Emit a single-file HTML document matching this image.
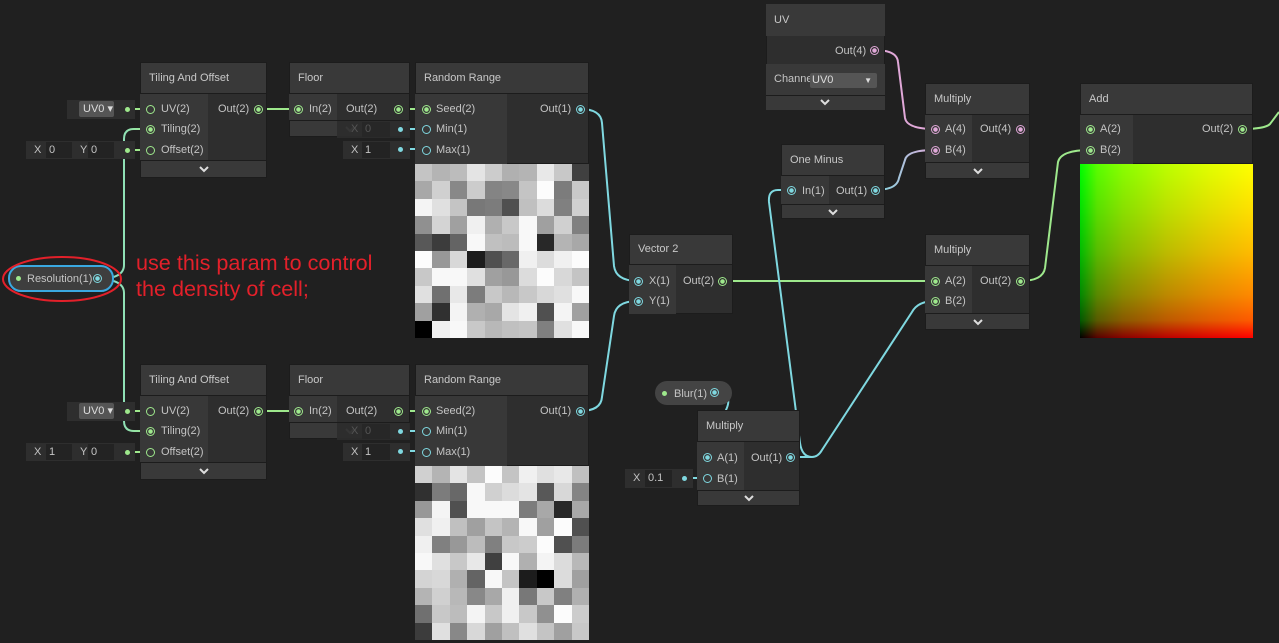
<!DOCTYPE html>
<html><head><meta charset="utf-8"><style>
*{margin:0;padding:0;box-sizing:border-box}
body{width:1279px;height:643px;background:#202020;position:relative;overflow:hidden;font-family:"Liberation Sans",sans-serif;font-size:11px;color:#c4c4c4}
.a{position:absolute}
svg{position:absolute;left:0;top:0}
.grad{background:linear-gradient(to right,#000,#590000 10%,#890000 25%,#bc0000 50%,#e10000 75%,#ff0000),linear-gradient(to bottom,#00ff00,#00e100 25%,#00bc00 50%,#008900 75%,#005900 90%,#000);background-blend-mode:screen}
</style></head><body>
<svg width="1279" height="643" fill="none" stroke-width="2">
<defs>
<linearGradient id="cg" x1="0" y1="0" x2="1" y2="0"><stop offset="0" stop-color="#7fd8e0"/><stop offset="1" stop-color="#9ee88c"/></linearGradient>
<linearGradient id="cp" x1="0" y1="0" x2="1" y2="0"><stop offset="0" stop-color="#7fd8e0"/><stop offset="1" stop-color="#e0a8d8"/></linearGradient>
<linearGradient id="pg" x1="0" y1="0" x2="1" y2="0"><stop offset="0" stop-color="#e0a8d8"/><stop offset="1" stop-color="#9ee88c"/></linearGradient>
</defs>
<g stroke="#9ee88c">
<path d="M127,109H150M127,150H150M258,109H298M398,109H426"/>
<path d="M127,411H150M127,452H150M258,411H298M398,411H426"/>
<path d="M722,281H935"/>
<path d="M1020,281Q1043,281 1045,268L1058,162Q1061,150 1090,150"/>
<path d="M1242,129Q1265,129 1270,124L1279,112"/>
</g>
<g stroke="url(#cg)">
<path d="M97,279Q124,279 124,265L124,139Q124,129 134,129L150,129"/>
<path d="M97,279Q124,279 124,293L124,421Q124,431 134,431L150,431"/>
</g>
<g stroke="#7fd8e0">
<path d="M400,129H426M400,149H426M400,431H426M400,451H426"/>
<path d="M580,109Q601,109 602,123L614,266Q616,281 638,281"/>
<path d="M580,411Q601,411 602,397L614,316Q616,301 638,301"/>
<path d="M791,190L778,190Q768,190 769,202L800,443Q802,457 812,457L790,457"/>
<path d="M790,457L812,457Q818,457 822,450L912,312Q918,301 935,301"/>
<path d="M714,393Q734,393 726,410L712,440Q705,457 715,457L707,457"/>
<path d="M684,478H707"/>
</g>
<path stroke="url(#cp)" d="M875,190Q897,190 899,178L905,160Q907,150 935,150"/>
<path stroke="#e0a8d8" d="M874,50Q897,50 898,62L905,118Q907,129 935,129"/>
<path stroke="url(#pg)" d="M1020,129H1090"/>
</svg>
<div id="root"></div>
<div class="a" style="left:136px;top:250px;color:#e3202a;font-size:21.6px;line-height:26px;font-family:'Liberation Sans','Noto Sans CJK SC',sans-serif">use this param to control<br>the density of cell;</div>
<svg width="1279" height="643" fill="none"><ellipse cx="62" cy="279" rx="59" ry="22" stroke="#e3202a" stroke-width="2"/></svg>
<script>
const R=document.getElementById('root');
function el(x,y,w,h,st,txt){const d=document.createElement('div');d.className='a';d.style.cssText=`left:${x}px;top:${y}px;width:${w}px;height:${h}px;`+(st||'');if(txt!=null)d.innerHTML=txt;R.appendChild(d);return d;}
function t(x,y,s,col,extra){el(x,y-7,200,14,`line-height:14px;white-space:nowrap;color:${col||'#c4c4c4'};${extra||''}`,s);}
function port(x,y,col,filled){el(x-4,y-4,9,9,`border:1.5px solid ${col};border-radius:50%;`+(filled?`background:radial-gradient(circle,${col} 0 2px,transparent 2.5px)`:''));}
function dot(x,y,col){el(x-2,y-2,5,5,`background:${col};border-radius:50%`);}
function chev(x,y){el(x-5,y-5,10,10,'','<svg width="10" height="10" style="position:static"><path d="M1,3L5,7L9,3" stroke="#ddd" stroke-width="2" fill="none"/></svg>');}
function node(x,y,w,title,hh,bodyH,inW,footH){
 el(x,y,w,hh+bodyH+footH,'background:#2e2e2e;border:1px solid #1c1c1c');
 el(x,y,w,hh,'background:#393939;border:1px solid #1c1c1c;padding-left:8px;line-height:'+(hh-2)+'px;color:#c8c8c8;font-size:11px',title);
 el(x,y+hh,inW,bodyH,'background:#383838');
 if(footH){el(x,y+hh+bodyH,w,footH,'background:#393939;border:1px solid #1c1c1c');chev(x+w/2,y+hh+bodyH+footH/2);}
}
const G='#9ee88c',C='#7fd8e0',P='#e0a8d8';
function grid(x,y,vals){const s=17.4;for(let r=0;r<10;r++)for(let c=0;c<10;c++){const v=vals[r*10+c];el(x+c*s,y+r*s,s+0.5,s+0.5,`background:rgb(${v},${v},${v})`);}}
const g1=[0xc4,0xb4,0xbc,0xe4,0xcc,0xb0,0xb4,0xe8,0xc8,0x40,0xa8,0xd0,0x88,0xcc,0x84,0x88,0xc4,0xfc,0x7c,0xc8,0xf4,0xe0,0xc4,0x78,0x7c,0x50,0xc0,0xdc,0x80,0xd0,0x90,0xd4,0xa0,0xf0,0xb0,0xc8,0xf8,0xa0,0xd0,0x80,0x58,0x3c,0x64,0xf8,0xc0,0xbc,0xf8,0x28,0xb4,0xa8,0xfc,0x98,0xd8,0x1c,0x50,0x68,0xf0,0xdc,0xf0,0xfc,0xc8,0xf8,0xf8,0xe0,0xa0,0x98,0xdc,0xfc,0xd8,0xc4,0xe0,0x70,0xe8,0x7c,0xc8,0xb8,0xc8,0xd8,0xe0,0xf8,0xa0,0x30,0xf4,0xb0,0xa8,0xe4,0xf0,0x50,0xf4,0xa0,0x00,0xf0,0xf8,0xc8,0xb8,0xc0,0xc4,0x80,0xe0,0xf8];
const g2=g1.map((v,i)=>g1[(i*37+11)%100]);
function set(dy,tx,ty,gv){
 node(140,62+dy,127,'Tiling And Offset',32,66,68,18);
 t(161,109+dy,'UV(2)');t(161,129+dy,'Tiling(2)');t(161,150+dy,'Offset(2)');t(218,109+dy,'Out(2)');
 port(150,109+dy,G,0);port(150,129+dy,G,1);port(150,150+dy,G,0);port(258,109+dy,G,1);
 el(67,100+dy,68,19,'background:#2e2e2e');el(79,101+dy,35,16,'background:#555;border-radius:2px;color:#ddd;padding-left:4px;line-height:16px','UV0 ▾');dot(127,109+dy,G);
 el(26,141+dy,109,18,'background:#2e2e2e');t(34,150+dy,'X');t(80,150+dy,'Y');
 el(46,142+dy,26,16,'background:#232323;padding-left:3px;line-height:16px',tx);el(88,142+dy,26,16,'background:#232323;padding-left:3px;line-height:16px',ty);dot(127,150+dy,G);
 node(289,62+dy,121,'Floor',32,26,48,17);
 t(309,109+dy,'In(2)');t(346,109+dy,'Out(2)');port(298,109+dy,G,1);port(398,109+dy,G,1);
 el(337,121+dy,73,17,'background:#2c2c2c;opacity:.95');t(351,129+dy,'X','#555');el(362,122+dy,28,15,'background:#272727;color:#555;padding-left:3px;line-height:15px','0');dot(400,129+dy,C);
 el(343,141+dy,67,18,'background:#2e2e2e');t(351,150+dy,'X');el(362,142+dy,28,16,'background:#232323;padding-left:3px;line-height:16px','1');dot(400,149+dy,C);
 node(415,62+dy,174,'Random Range',32,70,92,0);
 t(436,109+dy,'Seed(2)');t(436,129+dy,'Min(1)');t(436,150+dy,'Max(1)');t(540,109+dy,'Out(1)');
 port(426,109+dy,G,1);port(426,129+dy,C,0);port(426,150+dy,C,0);port(580,109+dy,C,1);
 grid(415,164+dy,gv);
}
set(0,'0','0',g1);set(302,'1','0',g2);
el(8,265,106,27,'background:#3e3e3e;border:2px solid #3aa8e0;border-radius:13px');dot(18,278,G);t(27,279,'Resolution(1)');port(97,278,C,1);
node(629,234,104,'Vector 2',31,49,47,0);t(649,281,'X(1)');t(649,301,'Y(1)');t(683,281,'Out(2)');port(638,281,C,1);port(638,301,C,1);port(722,281,G,1);
el(766,4,119,106,'background:#2e2e2e;border:1px solid #1c1c1c');el(766,4,119,32,'background:#393939;padding-left:8px;line-height:32px;color:#c8c8c8','UV');
t(835,51,'Out(4)');port(874,50,P,1);el(766,64,119,31,'background:#393939');t(774,79,'Channe');el(810,73,67,15,'background:#555;border-radius:2px;color:#ddd;padding-left:2px;line-height:15px','UV0<span style="position:absolute;right:5px;font-size:8px">▼</span>');
el(766,95,119,15,'background:#393939;border-top:1px solid #1c1c1c');chev(825,102);
node(781,144,104,'One Minus',32,28,48,15);t(802,191,'In(1)');t(836,191,'Out(1)');port(791,190,C,1);port(875,190,C,1);
node(925,83,105,'Multiply',32,47,47,17);t(945,129,'A(4)');t(945,150,'B(4)');t(980,129,'Out(4)');port(935,129,P,1);port(935,150,P,1);port(1020,129,P,1);
node(925,234,105,'Multiply',32,47,47,17);t(945,281,'A(2)');t(945,301,'B(2)');t(980,281,'Out(2)');port(935,281,G,1);port(935,301,G,1);port(1020,281,G,1);
node(1080,83,173,'Add',32,49,53,0);t(1100,129,'A(2)');t(1100,150,'B(2)');t(1202,129,'Out(2)');port(1090,129,G,1);port(1090,150,G,1);port(1242,129,G,1);
el(1080,164,173,174,'','');R.lastChild.className='a grad';
el(655,381,77,24,'background:#444;border-radius:12px');dot(664,393,G);t(674,394,'Blur(1)');port(714,392,C,1);
node(697,410,103,'Multiply',32,48,47,16);t(717,458,'A(1)');t(717,479,'B(1)');t(751,458,'Out(1)');port(707,457,C,1);port(707,478,C,0);port(790,457,C,1);
el(625,469,68,19,'background:#2e2e2e');t(633,478,'X');el(645,470,27,17,'background:#232323;padding-left:3px;line-height:17px','0.1');dot(684,478,C);
</script>
</body></html>
